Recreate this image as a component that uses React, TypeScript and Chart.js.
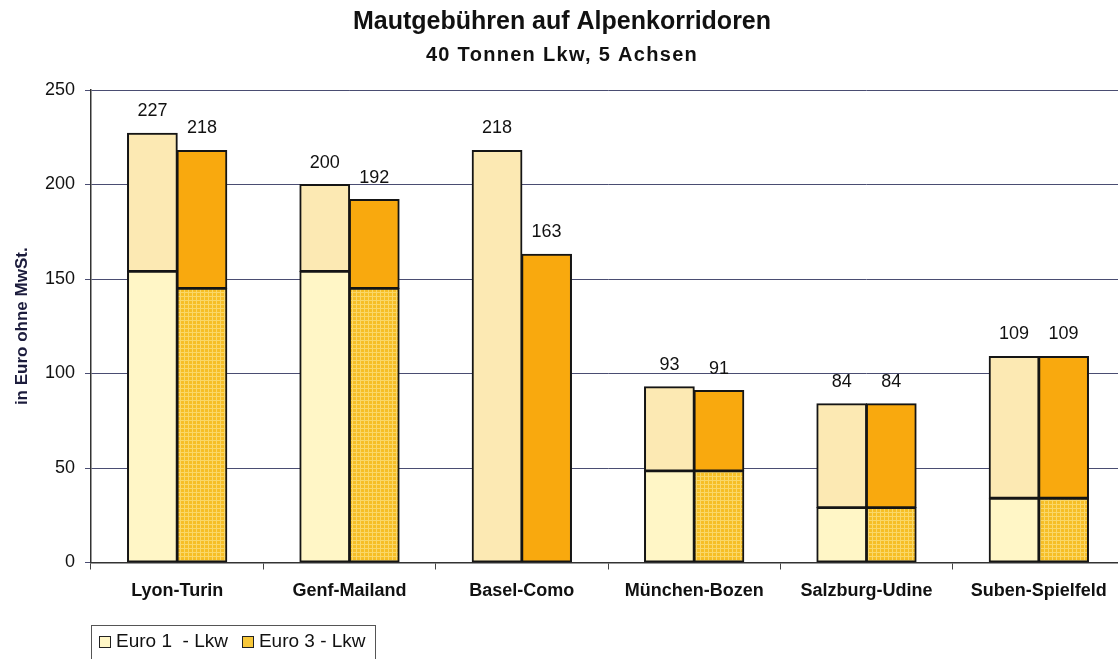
import React, { useEffect, useRef } from "react";
import { Chart, registerables } from "chart.js";

Chart.register(...registerables);

const categories = ["Lyon-Turin", "Genf-Mailand", "Basel-Como", "München-Bozen", "Salzburg-Udine", "Suben-Spielfeld"];
const euro1Total = [227, 200, 218, 93, 84, 109];
const euro3Total = [218, 192, 163, 91, 84, 109];
const euro1Base: (number | null)[] = [154, 154, null, 48.5, 29, 34];
const euro3Base: (number | null)[] = [145, 145, null, 48.5, 29, 34];
const yTicks = [0, 50, 100, 150, 200, 250];
const titleText = "Mautgebühren auf Alpenkorridoren";
const subtitleText = "40 Tonnen Lkw, 5 Achsen";
const yTitle = "in Euro ohne MwSt.";
const legendLabels = ["Euro 1  - Lkw", "Euro 3 - Lkw"];

const FONT = '"Liberation Sans", Arial, sans-serif';
const C_E1_BASE = "#FFF6C6";
const C_E1_TOP = "#FCE9B3";
const C_E3_TOP = "#F9A90E";
const C_E3_BASE = "#F8C83A";
const BORDER = "#151515";

function makePattern(): CanvasPattern | string {
  const c = document.createElement("canvas");
  c.width = 4;
  c.height = 4;
  const g = c.getContext("2d");
  if (!g) return C_E3_BASE;
  g.fillStyle = "#F6BE26";
  g.fillRect(0, 0, 4, 4);
  g.fillStyle = "#FAD768";
  g.fillRect(0, 0, 4, 1);
  g.fillRect(0, 0, 1, 4);
  const p = g.createPattern(c, "repeat");
  return p || C_E3_BASE;
}

export default function App() {
  const ref = useRef<HTMLCanvasElement | null>(null);
  useEffect(() => {
    if (!ref.current) return;
    const pattern = makePattern();
    const e1Top = euro1Total.map((t, i) => t - (euro1Base[i] ?? 0));
    const e3Top = euro3Total.map((t, i) => t - (euro3Base[i] ?? 0));

    const overlay = {
      id: "overlay",
      afterDatasetsDraw(chart: any) {
        const ctx = chart.ctx;
        ctx.save();
        ctx.fillStyle = "#111";
        ctx.font = `18px ${FONT}`;
        ctx.textAlign = "center";
        ctx.textBaseline = "alphabetic";
        const pairs: [number, number[]][] = [
          [1, euro1Total],
          [3, euro3Total],
        ];
        pairs.forEach(([di, totals]) => {
          const meta = chart.getDatasetMeta(di);
          meta.data.forEach((el: any, i: number) => {
            ctx.fillText(String(totals[i]), el.x, el.y - 17);
          });
        });
        // titles
        ctx.font = `bold 25px ${FONT}`;
        ctx.fillText(titleText, 562, 29);
        ctx.font = `bold 20px ${FONT}`;
        try {
          (ctx as any).letterSpacing = "1.3px";
        } catch (e) {}
        ctx.fillText(subtitleText, 562, 61);
        try {
          (ctx as any).letterSpacing = "0px";
        } catch (e) {}
        ctx.restore();
      },
    };

    const common = {
      borderColor: BORDER,
      borderWidth: 2,
      borderSkipped: false as const,
      inflateAmount: 0.6,
    };

    const chart = new Chart(ref.current, {
      type: "bar",
      data: {
        labels: categories,
        datasets: [
          { label: "e1base", data: euro1Base as any, stack: "e1", backgroundColor: C_E1_BASE, ...common },
          { label: "e1top", data: e1Top, stack: "e1", backgroundColor: C_E1_TOP, ...common },
          { label: "e3base", data: euro3Base as any, stack: "e3", backgroundColor: pattern as any, ...common },
          { label: "e3top", data: e3Top, stack: "e3", backgroundColor: C_E3_TOP, ...common },
        ],
      },
      options: {
        responsive: false,
        animation: false,
        devicePixelRatio: 1,
        categoryPercentage: 0.575,
        barPercentage: 1,
        layout: { padding: { top: 90, left: 0, right: 1, bottom: 0 } },
        plugins: {
          legend: { display: false },
          title: { display: false },
          tooltip: { enabled: false },
        },
        scales: {
          x: {
            stacked: true,
            afterFit: (s: any) => {
              s.height = 96.5;
            },
            grid: {
              display: true,
              drawOnChartArea: false,
              drawTicks: true,
              tickLength: 7,
              color: "#444",
              offset: true,
            },
            border: { display: true, color: "#333", width: 1.5 },
            ticks: {
              font: { family: FONT, size: 18, weight: "bold" },
              color: "#111",
              padding: 11,
              maxRotation: 0,
              autoSkip: false,
            },
          },
          y: {
            stacked: true,
            min: 0,
            max: 250,
            afterFit: (s: any) => {
              s.width = 91;
            },
            afterBuildTicks: (s: any) => {
              s.ticks = yTicks.map((v) => ({ value: v }));
            },
            grid: {
              color: "#4a4d72",
              lineWidth: 1,
              tickLength: 6,
              drawTicks: true,
            },
            border: { display: true, color: "#333", width: 1.5 },
            ticks: {
              font: { family: FONT, size: 18 },
              color: "#111",
              padding: 10,
            },
            title: {
              display: true,
              text: yTitle,
              font: { family: FONT, size: 17, weight: "bold" },
              color: "#1c1c3c",
              padding: { top: 12, bottom: 0 },
            },
          },
        },
      },
      plugins: [overlay],
    });
    return () => chart.destroy();
  }, []);

  const sq = (bg: string) => ({
    display: "inline-block",
    width: 12,
    height: 12,
    border: "1.5px solid #222",
    background: bg,
    marginTop: 6,
    marginRight: 5,
    boxSizing: "border-box" as const,
  });

  return (
    <div
      style={{
        position: "fixed",
        left: 0,
        top: 0,
        width: 1118,
        height: 659,
        overflow: "hidden",
        background: "#fff",
      }}
    >
      <canvas ref={ref} width={1126} height={659} style={{ display: "block" }} />
      <div
        style={{
          position: "absolute",
          left: 91,
          top: 625,
          width: 285,
          height: 40,
          border: "1px solid #555",
          boxSizing: "border-box",
          fontFamily: FONT,
          fontSize: 19,
          color: "#111",
          display: "flex",
          alignItems: "flex-start",
          paddingTop: 4,
          paddingLeft: 7,
          whiteSpace: "pre",
        }}
      >
        <span style={sq(C_E1_BASE)} />
        <span style={{ marginRight: 14 }}>{legendLabels[0]}</span>
        <span style={sq(C_E3_BASE)} />
        <span>{legendLabels[1]}</span>
      </div>
    </div>
  );
}
